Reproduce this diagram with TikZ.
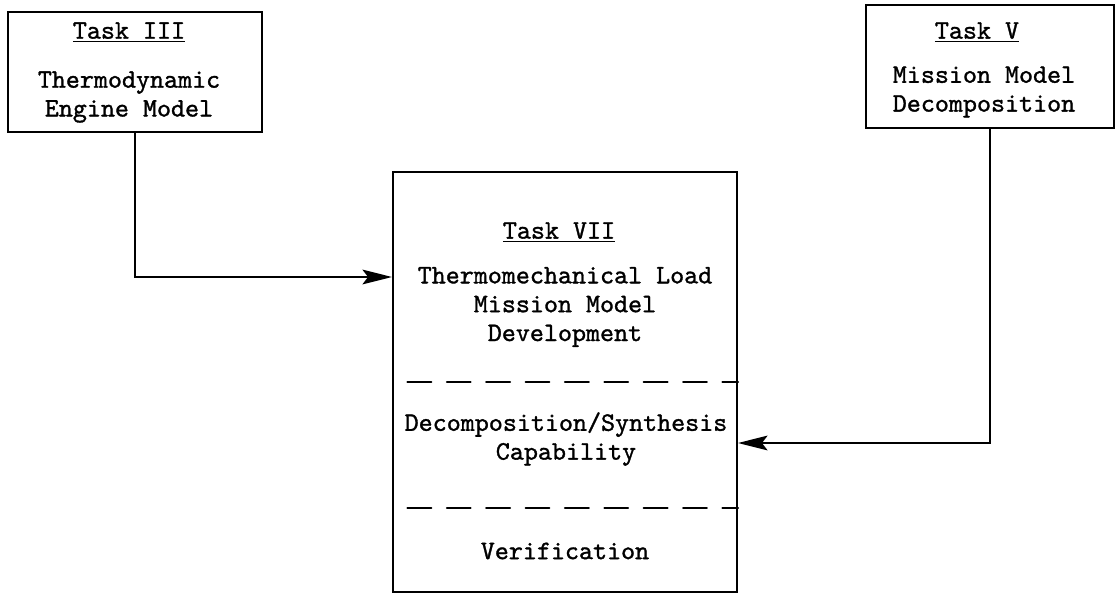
\documentclass[tikz,border=0pt]{standalone}
\usepackage{fontspec}
\newfontfamily\typew{lmmono10-regular.otf}[FakeBold=1.2]
\usetikzlibrary{arrows.meta}
\begin{document}
\begin{tikzpicture}[x=0.025cm,y=-0.025cm,line cap=round,every node/.style={font=\fontsize{19}{20.5}\typew}]
\tikzset{box/.style={draw,line width=1.4pt,inner sep=0pt},txt/.style={align=center},
  feed/.style={line width=1.4pt,-{Stealth[length=21pt,width=10.5pt,inset=4pt]}},sep/.style={line width=1.4pt,dash pattern=on 17pt off 11pt,dash phase=17pt}}
\useasboundingbox (0,0) rectangle (1119,593);
% boxes
\node[box,minimum width=6.35cm,minimum height=3cm] (t3) at (135,72) {};
\node[box,minimum width=6.2cm,minimum height=3.075cm] (t5) at (990,66.5) {};
\node[box,minimum width=8.6cm,minimum height=10.5cm] (t7) at (565,382) {};
\foreach \y in {382,508} \draw[sep] (t7.west |- 0,\y) -- (t7.east |- 0,\y);
% texts
\node (t3h) at (129,32) {\underline{Task III}};
\node[txt] (t3b) at (129,97) {Thermodynamic\\Engine Model};
\node (t5h) at (977,32) {\underline{Task V}};
\node[txt] (t5b) at (984,92) {Mission Model\\Decomposition};
\node (t7h) at (559,232) {\underline{Task VII}};
\node[txt] (t7a) at (565,307) {Thermomechanical Load\\Mission Model\\Development};
\node[txt] (t7b) at (566,439) {Decomposition/Synthesis\\Capability};
\node (t7c) at (565,551) {Verification};
% connectors
\draw[feed] (t3.south) |- (t7.west |- 0,277);
\draw[feed] (t5.south) |- (t7.east |- 0,443);
\end{tikzpicture}
\end{document}
